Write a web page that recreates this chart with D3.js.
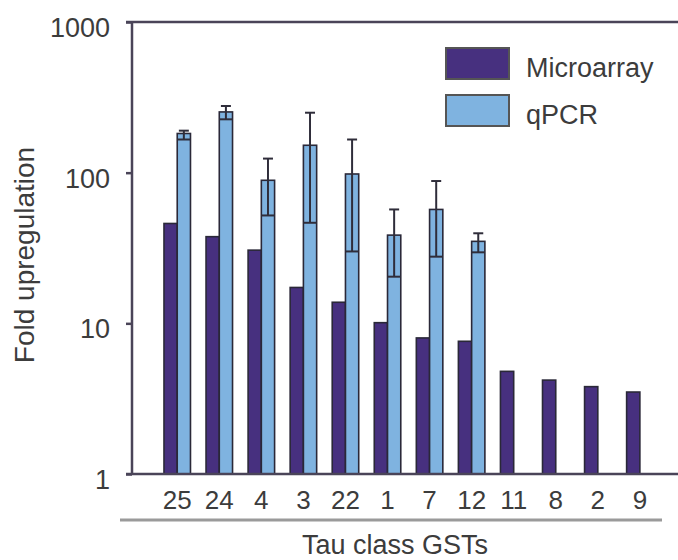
<!DOCTYPE html>
<html>
<head>
<meta charset="utf-8">
<script src="https://cdn.jsdelivr.net/npm/d3@7"></script>
<style>
  body { margin: 0; background: #fff; }
  text { font-family: "Liberation Sans", Arial, sans-serif; fill: #3c3c3c; }
</style>
</head>
<body>
<div class="canvas"></div>
<script>
// data
const categories = ['25', '24', '4', '3', '22', '1', '7', '12', '11', '8', '2', '9'];
const microarray = [46, 37.6, 30.6, 17.3, 13.8, 10.1, 8.0, 7.6, 4.8, 4.2, 3.8, 3.5];
const qpcr = [182, 253, 89, 152, 98, 38.5, 57, 35, null, null, null, null];
const qpcrLow = [166, 226, 52, 46.5, 30, 20.4, 27.7, 29.6, null, null, null, null];
const qpcrHigh = [190, 277, 124, 250, 166, 57, 88, 39.6, null, null, null, null];
const yTicks = [1, 10, 100, 1000];
const seriesNames = ['Microarray', 'qPCR'];
const colors = ['#47307f', '#7fb3e0'];

const svg = d3.select('.canvas')
    .append('svg')
    .attr('width', 678)
    .attr('height', 560);

// scales
const y = d3.scaleLog()
    .domain([1, 1000])
    .range([474, 22]);

const x = d3.scaleBand()
    .domain(categories)
    .range([156.2, 660.9])
    .paddingInner(0.37)
    .paddingOuter(0.185);

const x1 = d3.scaleBand()
    .domain(seriesNames)
    .range([0, x.bandwidth()]);

// frame lines (top and bottom run to the edge)
svg.append('line')
    .attr('x1', 126).attr('x2', 678)
    .attr('y1', y(1000)).attr('y2', y(1000))
    .attr('stroke', '#4a4458').attr('stroke-width', 2.5);

// bars
const rows = categories.map((c, i) => ({
    cat: c, micro: microarray[i], q: qpcr[i], lo: qpcrLow[i], hi: qpcrHigh[i]
}));

svg.selectAll('rect.micro')
    .data(rows)
    .enter().append('rect')
    .attr('class', 'micro')
    .attr('x', d => x(d.cat) + x1('Microarray'))
    .attr('width', x1.bandwidth())
    .attr('y', d => y(d.micro))
    .attr('height', d => y(1) - y(d.micro))
    .attr('fill', colors[0])
    .attr('stroke', '#2a2838')
    .attr('stroke-width', 1.6);

const qrows = rows.filter(d => d.q != null);

svg.selectAll('rect.qpcr')
    .data(qrows)
    .enter().append('rect')
    .attr('class', 'qpcr')
    .attr('x', d => x(d.cat) + x1('qPCR'))
    .attr('width', x1.bandwidth())
    .attr('y', d => y(d.q))
    .attr('height', d => y(1) - y(d.q))
    .attr('fill', colors[1])
    .attr('stroke', '#2a2838')
    .attr('stroke-width', 1.6);

// error bars
const err = svg.selectAll('g.err')
    .data(qrows)
    .enter().append('g')
    .attr('class', 'err')
    .attr('stroke', '#2f2d3a')
    .attr('stroke-width', 2);

const cx = d => x(d.cat) + x1('qPCR') + x1.bandwidth() / 2;

err.append('line')
    .attr('x1', cx).attr('x2', cx)
    .attr('y1', d => y(d.lo)).attr('y2', d => y(d.hi));
err.append('line')
    .attr('x1', d => x(d.cat) + x1('qPCR')).attr('x2', d => x(d.cat) + x1('qPCR') + x1.bandwidth())
    .attr('y1', d => y(d.lo)).attr('y2', d => y(d.lo));
err.append('line')
    .attr('x1', d => cx(d) - 5).attr('x2', d => cx(d) + 5)
    .attr('y1', d => y(d.hi)).attr('y2', d => y(d.hi));

// bottom line
svg.append('line')
    .attr('x1', 126).attr('x2', 678)
    .attr('y1', y(1)).attr('y2', y(1))
    .attr('stroke', '#4a4458').attr('stroke-width', 2.5);

// y axis
const yAxis = d3.axisLeft(y)
    .tickValues(yTicks)
    .tickSize(6)
    .tickFormat(d3.format('d'));

const yAxisGroup = svg.append('g')
    .attr('transform', 'translate(132,0)')
    .call(yAxis);

yAxisGroup.select('.domain')
    .attr('stroke', '#4a4458').attr('stroke-width', 2.5)
    .attr('d', `M0,${y(1000)}V${y(1)}`);
yAxisGroup.selectAll('.tick line')
    .attr('stroke', '#4a4458').attr('stroke-width', 2.5);
yAxisGroup.selectAll('.tick text')
    .attr('x', -22)
    .attr('dy', null)
    .attr('y', 14.5)
    .style('font-size', '27px')
    .style('font-family', '"Liberation Sans", Arial, sans-serif')
    .attr('fill', '#3c3c3c');

// x labels
svg.selectAll('text.xlab')
    .data(categories)
    .enter().append('text')
    .attr('class', 'xlab')
    .attr('x', d => x(d) + x.bandwidth() / 2)
    .attr('y', 509)
    .attr('text-anchor', 'middle')
    .style('font-size', '26px')
    .text(d => d);

// grey rule under labels
svg.append('line')
    .attr('x1', 120).attr('x2', 662)
    .attr('y1', 520).attr('y2', 520)
    .attr('stroke', '#9a9a9a').attr('stroke-width', 3);

// axis titles
svg.append('text')
    .attr('x', 395)
    .attr('y', 554)
    .attr('text-anchor', 'middle')
    .style('font-size', '27px')
    .text('Tau class GSTs');

svg.append('text')
    .attr('transform', 'translate(34,255) rotate(-90)')
    .attr('text-anchor', 'middle')
    .style('font-size', '28px')
    .text('Fold upregulation');

// legend
const legend = svg.selectAll('g.legend')
    .data(seriesNames)
    .enter().append('g')
    .attr('class', 'legend')
    .attr('transform', (d, i) => `translate(446,${48 + i * 47})`);

legend.append('rect')
    .attr('width', 63)
    .attr('height', 31)
    .attr('fill', (d, i) => colors[i])
    .attr('stroke', '#555')
    .attr('stroke-width', 2);

legend.append('text')
    .attr('x', 80)
    .attr('y', 29)
    .style('font-size', '27px')
    .text(d => d);
</script>
</body>
</html>
